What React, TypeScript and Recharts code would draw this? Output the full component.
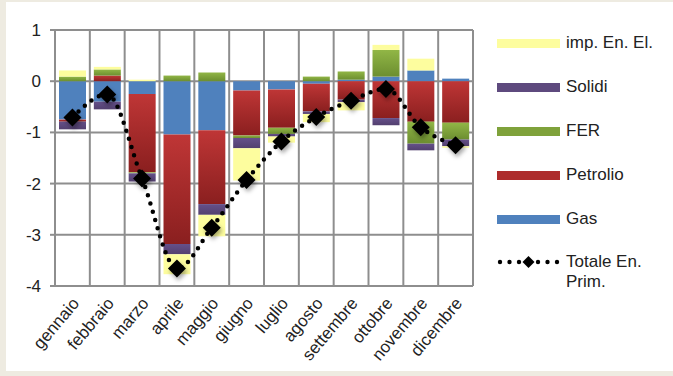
import React from 'react';
import { ComposedChart, Bar, Line, XAxis, YAxis, CartesianGrid } from 'recharts';

const months = ['gennaio', 'febbraio', 'marzo', 'aprile', 'maggio', 'giugno', 'luglio', 'agosto', 'settembre', 'ottobre', 'novembre', 'dicembre'];
const gas = [-0.75, -0.4, -0.25, -1.04, -0.96, -0.18, -0.16, -0.05, 0.03, 0.09, 0.21, 0.05];
const petrolio = [-0.04, 0.11, -1.53, -2.14, -1.44, -0.88, -0.75, -0.54, -0.36, -0.72, -0.79, -0.81];
const fer = [0.09, 0.12, -0.02, 0.11, 0.17, -0.05, -0.12, 0.09, 0.16, 0.52, -0.43, -0.33];
const solidi = [-0.15, -0.15, -0.16, -0.2, -0.21, -0.2, -0.05, -0.05, -0.05, -0.14, -0.13, -0.13];
const impEnEl = [0.12, 0.05, 0.03, -0.39, -0.42, -0.63, -0.12, -0.16, -0.16, 0.1, 0.23, -0.03];
const totale = [-0.71, -0.26, -1.9, -3.66, -2.86, -1.93, -1.18, -0.7, -0.38, -0.15, -0.9, -1.25];
const yTicks = [-4, -3, -2, -1, 0, 1];

const data = months.map((m, i) => ({
  name: m,
  gas: gas[i],
  petrolio: petrolio[i],
  fer: fer[i],
  solidi: solidi[i],
  imp: impEnEl[i],
  totale: totale[i],
}));

const FONT = '"Liberation Sans", Arial, sans-serif';
const GRID = '#8e8e8e';

const Diamond = (props: any) => {
  const { cx, cy } = props;
  if (cx == null || cy == null) return null;
  const r = 9;
  return (
    <path
      d={`M${cx},${cy - r} L${cx + r},${cy} L${cx},${cy + r} L${cx - r},${cy} Z`}
      fill="#000"
      filter="url(#dshadow)"
    />
  );
};

const MonthTick = (props: any) => {
  const { x, y, payload } = props;
  return (
    <g transform={`translate(${x + 3},${y + 6}) rotate(-50)`}>
      <text x={0} y={0} textAnchor="end" dy="0.35em" fontSize={17} fill="#222" fontFamily={FONT}>
        {payload.value}
      </text>
    </g>
  );
};

const legendItems = [
  { label: 'imp. En. El.', color: '#fdfd9e' },
  { label: 'Solidi', color: '#5e4a7e' },
  { label: 'FER', color: '#7fa23b' },
  { label: 'Petrolio', color: '#ad2c2c' },
  { label: 'Gas', color: '#4f81bd' },
];

const App = () => {
  return (
    <div style={{ position: 'absolute', left: 0, top: 0, width: 673, height: 376, background: '#eeebe1' }}>
      <div style={{ position: 'absolute', left: 6, top: 2, width: 667, height: 369, background: '#fff' }} />
      <div style={{ position: 'absolute', left: 0, top: 0 }}>
        <ComposedChart
          width={673}
          height={376}
          data={data}
          stackOffset="sign"
          barSize={27}
          margin={{ top: 30, right: 200, bottom: 30, left: 10 }}
        >
          <defs>
            <linearGradient id="gPet" x1="0" y1="0" x2="0" y2="1">
              <stop offset="0%" stopColor="#bf3636" />
              <stop offset="100%" stopColor="#8a1f1f" />
            </linearGradient>
            <linearGradient id="gFer" x1="0" y1="0" x2="0" y2="1">
              <stop offset="0%" stopColor="#91b646" />
              <stop offset="100%" stopColor="#6c8e30" />
            </linearGradient>
            <linearGradient id="gSol" x1="0" y1="0" x2="0" y2="1">
              <stop offset="0%" stopColor="#65508a" />
              <stop offset="100%" stopColor="#53406f" />
            </linearGradient>
            <filter id="dshadow" x="-50%" y="-50%" width="200%" height="200%">
              <feDropShadow dx="1.5" dy="3" stdDeviation="2" floodColor="#000" floodOpacity="0.35" />
            </filter>
          </defs>
          <CartesianGrid
            stroke={GRID}
            strokeWidth={2}
            verticalCoordinatesGenerator={({ offset }: any) =>
              Array.from({ length: months.length + 1 }, (_, i) => offset.left + (i * offset.width) / months.length)
            }
          />
          <XAxis dataKey="name" axisLine={false} tickLine={false} height={60} interval={0} tick={<MonthTick />} />
          <YAxis
            domain={[-4, 1]}
            ticks={yTicks}
            width={45}
            axisLine={{ stroke: GRID, strokeWidth: 2 }}
            tickLine={{ stroke: GRID, strokeWidth: 2 }}
            tickSize={5}
            tickMargin={9}
            tick={{ fontSize: 17, fill: '#222', fontFamily: FONT }}
          />
          <Bar dataKey="gas" stackId="a" fill="#4f81bd" isAnimationActive={false} />
          <Bar dataKey="petrolio" stackId="a" fill="url(#gPet)" isAnimationActive={false} />
          <Bar dataKey="fer" stackId="a" fill="url(#gFer)" isAnimationActive={false} />
          <Bar dataKey="solidi" stackId="a" fill="url(#gSol)" isAnimationActive={false} />
          <Bar dataKey="imp" stackId="a" fill="#fdfd9e" isAnimationActive={false} />
          <Line
            dataKey="totale"
            type="monotone"
            stroke="#000"
            strokeWidth={4.5}
            strokeDasharray="0 8.5"
            strokeLinecap="round"
            dot={<Diamond />}
            activeDot={false}
            isAnimationActive={false}
          />
        </ComposedChart>
      </div>
      {legendItems.map((it, i) => (
        <div key={it.label} style={{ position: 'absolute', left: 497, top: 43 + i * 44 - 10, height: 20, display: 'flex', alignItems: 'center' }}>
          <div style={{ width: 63, height: 9, background: it.color }} />
          <span style={{ marginLeft: 6, fontSize: 17, color: '#222', fontFamily: FONT }}>{it.label}</span>
        </div>
      ))}
      <div style={{ position: 'absolute', left: 497, top: 252, display: 'flex', alignItems: 'flex-start' }}>
        <svg width={63} height={20}>
          {[0, 1, 2, 4, 5, 6].map((k) => (
            <circle key={k} cx={3 + k * 9.5} cy={10} r={2.2} fill="#000" />
          ))}
          <path d="M31.5,4 L37.5,10 L31.5,16 L25.5,10 Z" fill="#000" />
        </svg>
        <span style={{ marginLeft: 6, fontSize: 17, lineHeight: '20px', color: '#222', fontFamily: FONT }}>
          Totale En.
          <br />
          Prim.
        </span>
      </div>
    </div>
  );
};

export default App;
